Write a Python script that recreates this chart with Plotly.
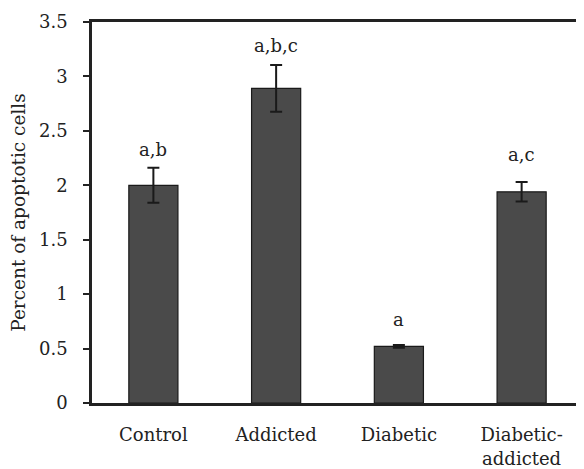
import plotly.graph_objects as go

categories = ["Control", "Addicted", "Diabetic", "Diabetic-<br>addicted"]
values = [2.0, 2.89, 0.52, 1.94]
errors = [0.16, 0.215, 0.012, 0.09]
labels = ["a,b", "a,b,c", "a", "a,c"]
label_y = [2.325, 3.28, 0.765, 2.28]
y_ticks = [0, 0.5, 1, 1.5, 2, 2.5, 3, 3.5]
y_tick_text = ["0", "0.5", "1", "1.5", "2", "2.5", "3", "3.5"]

FONT = "DejaVu Serif"

fig = go.Figure()
fig.add_trace(go.Bar(
    x=categories, y=values, width=0.4,
    marker=dict(color="#4a4a4a", line=dict(color="#1a1a1a", width=1.2)),
    error_y=dict(type="data", array=errors, visible=True, color="#1a1a1a",
                 thickness=2, width=6),
))

for c, t, yy in zip(categories, labels, label_y):
    fig.add_annotation(x=c, y=yy, text=t, showarrow=False,
                       font=dict(family=FONT, size=18, color="#222"))

fig.update_layout(
    width=576, height=461,
    margin=dict(l=84, r=1, t=14, b=66),
    plot_bgcolor="white", paper_bgcolor="white",
    showlegend=False,
    font=dict(family=FONT, size=18, color="#222"),
    bargap=0.6,
)
fig.update_xaxes(
    showline=True, linecolor="#222", linewidth=2.5, mirror=True,
    ticks="", showgrid=False, ticklabelstandoff=14, automargin=False,
    tickfont=dict(family=FONT, size=18, color="#222"),
)
fig.update_yaxes(
    range=[0, 3.5], tickvals=y_ticks, ticktext=y_tick_text,
    showline=True, linecolor="#222", linewidth=2.5, mirror=True,
    ticks="outside", ticklen=6, tickwidth=1.5, tickcolor="#222",
    showgrid=False, zeroline=False, ticklabelstandoff=12, automargin=False,
    tickfont=dict(family=FONT, size=18, color="#222"),
    title=dict(text="Percent of apoptotic cells", standoff=11,
               font=dict(family=FONT, size=18.5, color="#222")),
)

fig.write_html("out.html")
